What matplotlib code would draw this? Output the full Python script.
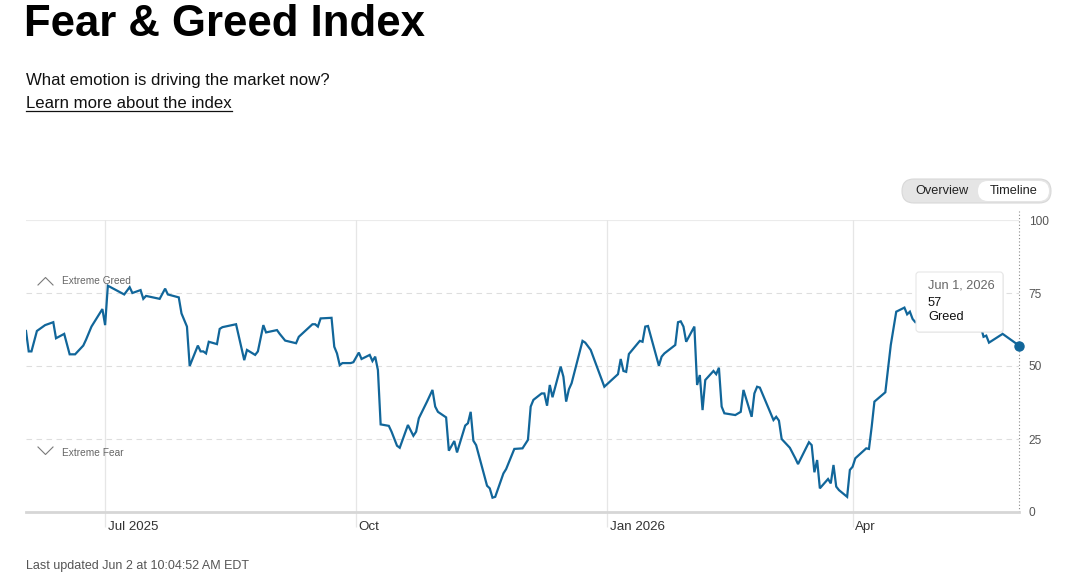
#Imports y config

import numpy as np
import pandas as pd
import matplotlib
matplotlib.use("Agg")
import matplotlib.pyplot as plt
import matplotlib.transforms as mtransforms
from matplotlib.patches import FancyBboxPatch
from matplotlib.lines import Line2D

W, H = 1072, 587
plt.rcParams["font.family"] = ["Liberation Sans", "DejaVu Sans"]

# Datos (dias de mercado)
dates = [
    "2025-06-02", "2025-06-03", "2025-06-04", "2025-06-06", "2025-06-09", "2025-06-12",
    "2025-06-13", "2025-06-16", "2025-06-18", "2025-06-20", "2025-06-23", "2025-06-24",
    "2025-06-26", "2025-06-30", "2025-07-01", "2025-07-02", "2025-07-08", "2025-07-10",
    "2025-07-11", "2025-07-14", "2025-07-15", "2025-07-16", "2025-07-21", "2025-07-23",
    "2025-07-24", "2025-07-28", "2025-07-29", "2025-07-31", "2025-08-01", "2025-08-04",
    "2025-08-05", "2025-08-06", "2025-08-07", "2025-08-08", "2025-08-11", "2025-08-12",
    "2025-08-13", "2025-08-18", "2025-08-21", "2025-08-22", "2025-08-25", "2025-08-26",
    "2025-08-28", "2025-08-29", "2025-09-02", "2025-09-03", "2025-09-05", "2025-09-09",
    "2025-09-10", "2025-09-15", "2025-09-16", "2025-09-17", "2025-09-18", "2025-09-22",
    "2025-09-23", "2025-09-24", "2025-09-25", "2025-09-26", "2025-09-29", "2025-09-30",
    "2025-10-02", "2025-10-03", "2025-10-06", "2025-10-07", "2025-10-08", "2025-10-09",
    "2025-10-10", "2025-10-13", "2025-10-14", "2025-10-16", "2025-10-17", "2025-10-20",
    "2025-10-22", "2025-10-23", "2025-10-24", "2025-10-27", "2025-10-29", "2025-10-30",
    "2025-10-31", "2025-11-03", "2025-11-04", "2025-11-06", "2025-11-07", "2025-11-10",
    "2025-11-11", "2025-11-12", "2025-11-13", "2025-11-14", "2025-11-18", "2025-11-19",
    "2025-11-20", "2025-11-21", "2025-11-24", "2025-11-25", "2025-11-28", "2025-12-01",
    "2025-12-03", "2025-12-04", "2025-12-05", "2025-12-08", "2025-12-09", "2025-12-10",
    "2025-12-11", "2025-12-12", "2025-12-15", "2025-12-16", "2025-12-17", "2025-12-18",
    "2025-12-19", "2025-12-23", "2025-12-24", "2025-12-26", "2025-12-31", "2026-01-02",
    "2026-01-05", "2026-01-06", "2026-01-07", "2026-01-08", "2026-01-09", "2026-01-13",
    "2026-01-14", "2026-01-15", "2026-01-16", "2026-01-20", "2026-01-21", "2026-01-22",
    "2026-01-26", "2026-01-27", "2026-01-28", "2026-01-29", "2026-01-30", "2026-02-02",
    "2026-02-03", "2026-02-04", "2026-02-05", "2026-02-06", "2026-02-09", "2026-02-10",
    "2026-02-11", "2026-02-12", "2026-02-13", "2026-02-17", "2026-02-19", "2026-02-20",
    "2026-02-23", "2026-02-24", "2026-02-25", "2026-02-26", "2026-03-03", "2026-03-04",
    "2026-03-05", "2026-03-06", "2026-03-09", "2026-03-11", "2026-03-12", "2026-03-16",
    "2026-03-17", "2026-03-18", "2026-03-19", "2026-03-20", "2026-03-23", "2026-03-24",
    "2026-03-25", "2026-03-26", "2026-03-27", "2026-03-30", "2026-03-31", "2026-04-01",
    "2026-04-02", "2026-04-06", "2026-04-07", "2026-04-08", "2026-04-09", "2026-04-13",
    "2026-04-15", "2026-04-17", "2026-04-20", "2026-04-21", "2026-04-22", "2026-04-23",
    "2026-04-24", "2026-04-27", "2026-04-30", "2026-05-04", "2026-05-07", "2026-05-11",
    "2026-05-14", "2026-05-18", "2026-05-19", "2026-05-20", "2026-05-21", "2026-05-26",
    "2026-05-29", "2026-06-01",
]
values = [
    62, 55, 55, 62, 64, 65,
    59.5, 61, 54, 54, 57, 59,
    63.5, 69.5, 64, 77.5, 74.5, 77,
    75, 76, 73, 74, 73, 76.5,
    74.5, 73.5, 68, 63.5, 50, 57,
    55, 55, 54.3, 58.3, 57.5, 62.7,
    63.3, 64.3, 52, 55.5, 53.8, 55,
    64, 61.5, 62.3, 61, 58.7, 57.8,
    60, 64.3, 64.3, 63.5, 66.3, 66.5,
    56.6, 54.3, 50.3, 51, 51, 51.3,
    54.6, 52.4, 53.8, 51.7, 53.2, 48.6,
    30, 29.5, 27.5, 22.7, 22, 29.8,
    26.1, 27.5, 32.1, 37.8, 41.8, 36.1,
    34.3, 32.4, 21, 24.3, 20.4, 29.6,
    30.4, 34.3, 24.4, 22.9, 9, 8.1,
    4.9, 5.2, 13.2, 14.7, 21.6, 21.8,
    24.7, 36.1, 38.4, 40.6, 40.6, 36.4,
    43.5, 39.3, 49.8, 46.3, 37.8, 42,
    44.1, 58.6, 58, 55.5, 42.9, 44.6,
    47.2, 52.4, 48.3, 48, 54.1, 58.6,
    58.3, 63.5, 63.7, 50.1, 53.2, 54.3,
    57.2, 65, 65.3, 63.5, 58.3, 63.5,
    43.5, 46.9, 34.9, 45.2, 48.3, 47.2,
    49.4, 36.1, 33.8, 33.2, 34.3, 41.8,
    32.6, 40.6, 42.9, 42.6, 31.5, 32.6,
    31.3, 25, 22, 18.4, 16.4, 23.9,
    22.9, 13.6, 17.8, 8.1, 11.3, 9.8,
    16.1, 8.7, 7.5, 5.2, 14.4, 15.5,
    18.4, 21.8, 21.6, 29.2, 37.8, 41,
    57.2, 68.6, 70, 67.7, 68.6, 66.1,
    65, 66.5, 64, 67, 65.5, 66,
    64.5, 63.5, 60, 60.4, 58, 61,
    59, 57,
]
month_ticks = ["2025-07-01", "2025-10-01", "2026-01-01", "2026-04-01"]
month_labels = ["Jul 2025", "Oct", "Jan 2026", "Apr"]
y_ticks = [0, 25, 50, 75, 100]

tooltip_date = "Jun 1, 2026"
tooltip_value = "57"
tooltip_label = "Greed"

LINE_COLOR = "#11669a"
GRID = "#e6e6e6"

df = pd.DataFrame({"fecha": pd.to_datetime(dates), "valor": values})
ticks_dt = pd.to_datetime(month_ticks)

fig = plt.figure(figsize=(W / 100, H / 100), dpi=100)
fig.patch.set_facecolor("white")

# transform en pixeles con origen arriba-izquierda
pix = mtransforms.Affine2D().scale(1 / W, -1 / H).translate(0, 1) + fig.transFigure

ax = fig.add_axes([26 / W, 1 - 512 / H, (1019 - 26) / W, (512 - 220) / H])

ax.plot(df["fecha"], df["valor"], color=LINE_COLOR, lw=1.6, zorder=3, solid_joinstyle="miter")
ax.plot(df["fecha"].iloc[-1], df["valor"].iloc[-1], "o", color=LINE_COLOR, ms=6.5, zorder=6, clip_on=False)

ax.set_xlim(df["fecha"].iloc[0], df["fecha"].iloc[-1])
ax.set_ylim(0, 100)

# grillas
for v in [25, 50, 75]:
    ax.axhline(v, color="#dedede", lw=0.8, ls=(0, (5, 4)), zorder=1)
ax.axhline(100, color="#ebebeb", lw=0.8, zorder=1)
for d in ticks_dt:
    ax.axvline(d, color=GRID, lw=0.9, zorder=1)
ax.axvline(df["fecha"].iloc[-1], ymin=0, ymax=1.03, color="#8a8a8a", lw=0.8, ls=(0, (1, 2)), zorder=2, clip_on=False)

for s in ["top", "left", "right"]:
    ax.spines[s].set_visible(False)
ax.spines["bottom"].set_color("#d6d6d6")
ax.spines["bottom"].set_linewidth(2)

ax.set_xticks(ticks_dt)
ax.tick_params(axis="x", length=11, width=0.9, color=GRID, labelbottom=False)
for d, lab in zip(ticks_dt, month_labels):
    ax.annotate(lab, xy=(d, 0), xycoords=("data", "axes fraction"), xytext=(2, -11),
                textcoords="offset points", ha="left", va="center", fontsize=9.6, color="#333333")

ax.yaxis.tick_right()
ax.set_yticks(y_ticks)
ax.set_yticklabels([str(v) for v in y_ticks])
ax.tick_params(axis="y", length=0, pad=7, labelsize=8.6, labelcolor="#555555")

# Extreme Greed / Extreme Fear
fig.add_artist(Line2D([38, 45.5, 53], [285, 277.5, 285], transform=pix, color="#7a7a7a", lw=0.8))
fig.add_artist(Line2D([38, 45.5, 53], [447, 454.5, 447], transform=pix, color="#7a7a7a", lw=0.8))
fig.text(62, 281.5, "Extreme Greed", transform=pix, fontsize=7.3, color="#666666", va="center", ha="left")
fig.text(62, 452.5, "Extreme Fear", transform=pix, fontsize=7.3, color="#666666", va="center", ha="left")

# tooltip
shadow = FancyBboxPatch((917, 273), 87, 60, boxstyle="round,pad=0,rounding_size=3",
                        transform=pix, fc="#000000", ec="none", alpha=0.06, zorder=7)
box = FancyBboxPatch((916, 272), 87, 60, boxstyle="round,pad=0,rounding_size=3",
                     transform=pix, fc="white", ec="#e6e6e6", lw=0.8, zorder=8)
fig.add_artist(shadow)
fig.add_artist(box)
fig.text(928, 285.5, tooltip_date, transform=pix, fontsize=9.2, color="#666666", va="center", ha="left", zorder=9)
fig.text(928, 303, tooltip_value, transform=pix, fontsize=9.2, color="#111111", va="center", ha="left", zorder=9)
fig.text(928, 317.5, tooltip_label, transform=pix, fontsize=9.2, color="#111111", va="center", ha="left", zorder=9)

# toggle Overview / Timeline
fig.add_artist(FancyBboxPatch((902, 179), 149, 24, boxstyle="round,pad=0,rounding_size=12",
                              transform=pix, fc="#e5e5e5", ec="#d8d8d8", lw=0.8))
fig.add_artist(FancyBboxPatch((978, 181), 71, 20, boxstyle="round,pad=0,rounding_size=10",
                              transform=pix, fc="white", ec="none"))
fig.text(942, 191, "Overview", transform=pix, fontsize=9.2, color="#222222", va="center", ha="center")
fig.text(1014, 191, "Timeline", transform=pix, fontsize=9.2, color="#222222", va="center", ha="center")

# textos de cabecera
fig.text(24, 24, "Fear & Greed Index", transform=pix, fontsize=31.5, fontweight="bold", color="black",
         va="center", ha="left")
fig.text(26, 80, "What emotion is driving the market now?", transform=pix, fontsize=12.1,
         color="#111111", va="center", ha="left")
learn = fig.text(26, 103, "Learn more about the index", transform=pix, fontsize=12.1,
                 color="#111111", va="center", ha="left")
fig.canvas.draw()
bb = learn.get_window_extent()
fig.add_artist(Line2D([bb.x0 / W, bb.x1 / W], [1 - 111 / H, 1 - 111 / H], transform=fig.transFigure,
                      color="#111111", lw=0.9))

fig.text(26, 566, "Last updated Jun 2 at 10:04:52 AM EDT", transform=pix, fontsize=9,
         color="#555555", va="center", ha="left")

fig.savefig("out.png", dpi=100, facecolor="white")
plt.close(fig)
